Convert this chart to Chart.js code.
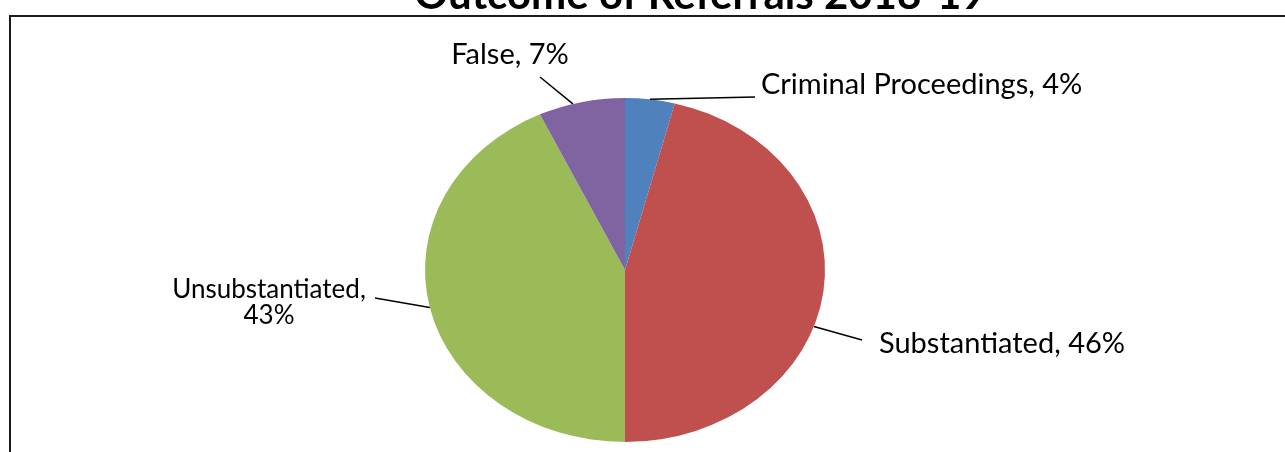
<!DOCTYPE html>
<html>
<head>
<meta charset="utf-8">
<title>Outcome of Referrals 2018-19</title>
<script src="https://cdn.jsdelivr.net/npm/chart.js@4.4.1/dist/chart.umd.min.js"></script>
<style>
  html, body { margin: 0; padding: 0; background: #fff; }
  #wrap { position: relative; width: 1285px; height: 452px; }
</style>
</head>
<body>
<div id="wrap"><canvas id="chartReferrals"></canvas></div>
<script>
const categories = ['Criminal Proceedings', 'Substantiated', 'Unsubstantiated', 'False'];
const values = [4, 46, 43, 7];
const colors = ['#4F81BD', '#C0504D', '#9BBB59', '#8064A2'];
const chartTitle = 'Outcome of Referrals 2018-19';

// Geometría: el pie original es una elipse (más ancha que alta)
const PIE_CX = 625, PIE_CY = 270, PIE_RX = 200, PIE_RY = 172;
const W = 1285, H = 452;

// Posición de cada etiqueta, relativa al centro del pie
// lines: texto; size: tamaño de letra; tx/ty: ancla del texto; lx/ly: fin de la línea guía;
// shift: ajuste del punto de salida (grados)
const labelLayout = [
  { lines: ['Criminal Proceedings, 4%'], size: 29, tx: 136, ty: -185, align: 'left', lx: 130, ly: -173, shift: 0 },
  { lines: ['Substantiated, 46%'], size: 29, tx: 254, ty: 74, align: 'left', lx: 237, ly: 70, shift: 12 },
  { lines: ['Unsubstantiated,', '43%'], size: 26, tx: -356, ty: 33, align: 'center', lx: -250, ly: 28, shift: 0 },
  { lines: ['False, 7%'], size: 29, tx: -115, ty: -215, align: 'center', lx: -85, ly: -193, shift: -2.5 }
];

// Marco del gráfico y título (cortados arriba y a la derecha como en el original)
const framePlugin = {
  id: 'frame',
  beforeDraw(chart) {
    const ctx = chart.ctx;
    ctx.save();
    ctx.strokeStyle = '#1b1b1b';
    ctx.lineWidth = 2;
    ctx.strokeRect(10, 16, W + 20, H + 20);
    ctx.fillStyle = '#000';
    ctx.font = 'bold 42px Lato';
    ctx.textAlign = 'center';
    ctx.textBaseline = 'alphabetic';
    ctx.fillText(chartTitle, 700, 9);
    ctx.restore();
  }
};

// Estira el pie horizontalmente para obtener la elipse
const ellipsePlugin = {
  id: 'ellipse',
  beforeDatasetsDraw(chart) {
    const arc = chart.getDatasetMeta(0).data[0];
    const ctx = chart.ctx;
    ctx.save();
    ctx.translate(arc.x, arc.y);
    ctx.scale(PIE_RX / arc.outerRadius, PIE_RY / arc.outerRadius);
    ctx.translate(-arc.x, -arc.y);
  },
  afterDatasetsDraw(chart) {
    chart.ctx.restore();
  }
};

// Etiquetas con líneas guía
const labelPlugin = {
  id: 'pieLabels',
  afterDraw(chart) {
    const ctx = chart.ctx;
    const arcs = chart.getDatasetMeta(0).data;
    ctx.save();
    ctx.fillStyle = '#000';
    ctx.strokeStyle = '#000';
    ctx.lineWidth = 1.5;
    arcs.forEach((arc, i) => {
      const L = labelLayout[i];
      const mid = (arc.startAngle + arc.endAngle) / 2 + L.shift * Math.PI / 180;
      const x0 = arc.x + PIE_RX * Math.cos(mid);
      const y0 = arc.y + PIE_RY * Math.sin(mid);
      ctx.beginPath();
      ctx.moveTo(x0, y0);
      ctx.lineTo(arc.x + L.lx, arc.y + L.ly);
      ctx.stroke();
      ctx.font = L.size + 'px Lato';
      ctx.textAlign = L.align;
      ctx.textBaseline = 'middle';
      const lh = 26;
      const top = arc.y + L.ty - (L.lines.length - 1) * lh / 2;
      L.lines.forEach((t, k) => ctx.fillText(t, arc.x + L.tx, top + k * lh));
    });
    ctx.restore();
  }
};

window.addEventListener('load', () => {
  new Chart(document.getElementById('chartReferrals'), {
    type: 'pie',
    data: {
      labels: categories,
      datasets: [{
        data: values,
        backgroundColor: colors,
        borderWidth: 0,
        offset: 0,
        hoverOffset: 0
      }]
    },
    options: {
      responsive: true,
      maintainAspectRatio: false,
      animation: false,
      events: [],
      layout: {
        padding: {
          top: PIE_CY - PIE_RY,
          bottom: H - PIE_CY - PIE_RY,
          left: PIE_CX - PIE_RY,
          right: W - PIE_CX - PIE_RY
        }
      },
      plugins: { legend: { display: false }, tooltip: { enabled: false }, title: { display: false } }
    },
    plugins: [framePlugin, ellipsePlugin, labelPlugin]
  });
});
</script>
</body>
</html>
